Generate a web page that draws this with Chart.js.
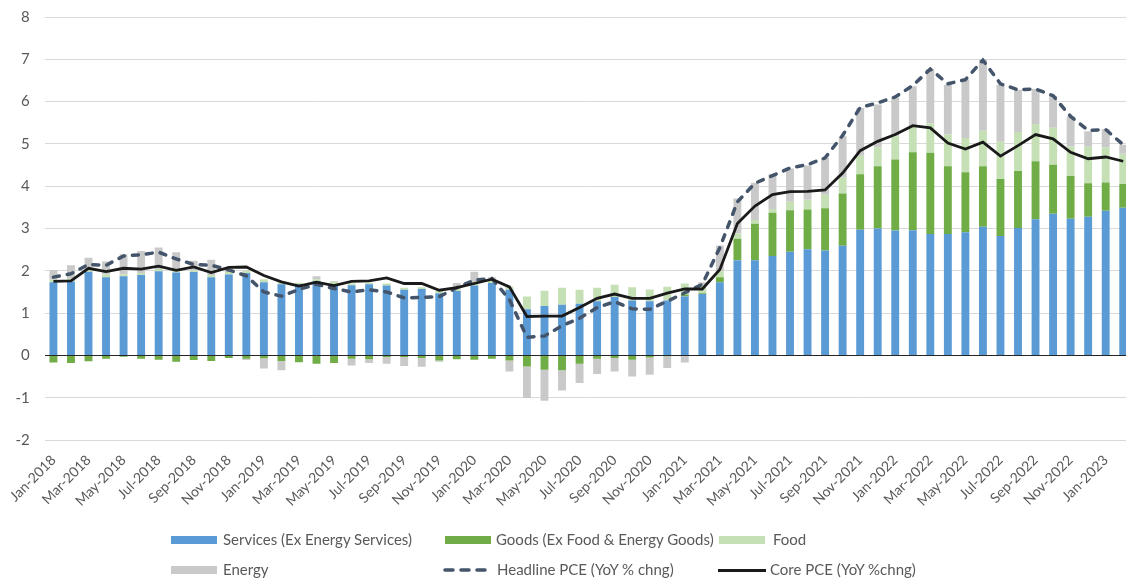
<!DOCTYPE html>
<html>
<head>
<meta charset="utf-8">
<script src="https://cdn.jsdelivr.net/npm/chart.js@4.4.1/dist/chart.umd.min.js"></script>
<style>
  html, body { margin: 0; padding: 0; background: #fff; overflow: hidden; }
  #wrap { position: relative; width: 1126px; height: 579px; overflow: hidden; }
  #grafico { position: absolute; left: 0; top: -7px; }
  .leg { position: absolute; font-family: Lato, "Open Sans", sans-serif; font-size: 15px; color: #595959; line-height: 18px; white-space: nowrap; }
  .caixa { position: absolute; height: 8px; width: 46px; }
</style>
</head>
<body>
<div id="wrap">
  <canvas id="grafico" width="1132" height="586"></canvas>

  <!-- legenda manual, 3 colunas como no original -->
  <div class="caixa" style="left:171px; top:536px; background:#5B9BD5"></div>
  <div class="leg" style="left:223px; top:530px">Services (Ex Energy Services)</div>
  <div class="caixa" style="left:445px; top:536px; background:#70AD47"></div>
  <div class="leg" style="left:496px; top:530px">Goods (Ex Food &amp; Energy Goods)</div>
  <div class="caixa" style="left:719px; top:536px; background:#C5E0B4"></div>
  <div class="leg" style="left:773px; top:530px">Food</div>

  <div class="caixa" style="left:171px; top:566px; background:#C9C9C9"></div>
  <div class="leg" style="left:223px; top:560px">Energy</div>
  <canvas id="legDash" width="48" height="8" style="position:absolute; left:442px; top:566px"></canvas>
  <div class="leg" style="left:497px; top:560px">Headline PCE (YoY % chng)</div>
  <div class="caixa" style="left:718px; top:569px; height:3px; width:48px; background:#1a1a1a"></div>
  <div class="leg" style="left:770px; top:560px">Core PCE (YoY %chng)</div>
</div>

<script>
// meses Jan-2018 .. Feb-2023
const meses = ['Jan', 'Feb', 'Mar', 'Apr', 'May', 'Jun', 'Jul', 'Aug', 'Sep', 'Oct', 'Nov', 'Dec'];
const categorias = [];
for (let ano = 2018; ano <= 2023; ano++) {
    for (let m = 0; m < 12; m++) {
        if (categorias.length < 62) categorias.push(meses[m] + '-' + ano);
    }
}

const yTicks = [-2, -1, 0, 1, 2, 3, 4, 5, 6, 7, 8];

// contribuições (pontos percentuais)
const services = [1.73, 1.75, 1.98, 1.85, 1.87, 1.90, 1.99, 1.96, 1.97, 1.85, 1.91, 1.95,
    1.73, 1.68, 1.68, 1.76, 1.69, 1.66, 1.68, 1.65, 1.55, 1.57, 1.47, 1.52,
    1.65, 1.71, 1.55, 1.09, 1.17, 1.20, 1.22, 1.28, 1.38, 1.30, 1.28, 1.30,
    1.39, 1.45, 1.73, 2.25, 2.25, 2.35, 2.45, 2.51, 2.48, 2.59, 2.97, 3.00,
    2.95, 2.96, 2.87, 2.87, 2.91, 3.04, 2.82, 3.01, 3.22, 3.35, 3.23, 3.28,
    3.42, 3.49];

const goods = [-0.17, -0.18, -0.14, -0.08, -0.03, -0.08, -0.10, -0.15, -0.11, -0.13, -0.06, -0.08,
    -0.07, -0.13, -0.16, -0.20, -0.18, -0.08, -0.09, -0.04, -0.04, -0.06, -0.12, -0.09,
    -0.10, -0.08, -0.12, -0.26, -0.34, -0.35, -0.20, -0.08, -0.06, -0.10, -0.05, -0.02,
    0.05, 0.02, 0.12, 0.51, 0.86, 1.02, 0.98, 0.94, 1.00, 1.24, 1.31, 1.47,
    1.68, 1.84, 1.92, 1.60, 1.42, 1.43, 1.35, 1.35, 1.37, 1.16, 1.01, 0.79,
    0.67, 0.56];

const food = [0.06, 0.06, 0.05, 0.06, 0.05, 0.05, 0.05, 0.04, 0.04, 0.05, 0.06, 0.05,
    0.07, 0.04, 0.04, 0.04, 0.05, 0.04, 0.04, 0.05, 0.05, 0.04, 0.05, 0.05,
    0.05, 0.05, 0.08, 0.30, 0.36, 0.40, 0.33, 0.32, 0.29, 0.31, 0.28, 0.32,
    0.26, 0.18, 0.14, 0.12, 0.09, 0.09, 0.20, 0.23, 0.32, 0.37, 0.44, 0.45,
    0.55, 0.60, 0.69, 0.75, 0.81, 0.84, 0.88, 0.92, 0.88, 0.87, 0.70, 0.86,
    0.83, 0.72];

const energy = [0.23, 0.32, 0.28, 0.31, 0.47, 0.52, 0.51, 0.44, 0.23, 0.36, 0.06, -0.03,
    -0.24, -0.22, 0.00, 0.07, 0.02, -0.16, -0.09, -0.16, -0.21, -0.21, -0.03, 0.14,
    0.28, 0.09, -0.26, -0.75, -0.73, -0.48, -0.45, -0.36, -0.32, -0.40, -0.41, -0.28,
    -0.17, 0.08, 0.61, 0.83, 0.88, 0.82, 0.79, 0.81, 0.87, 0.98, 1.13, 1.01,
    0.91, 0.96, 1.29, 1.18, 1.38, 1.68, 1.35, 1.00, 0.83, 0.76, 0.71, 0.37,
    0.43, 0.21];

// linhas (YoY %)
const headline = [1.85, 1.93, 2.15, 2.13, 2.35, 2.38, 2.44, 2.28, 2.15, 2.13, 2.02, 1.88,
    1.50, 1.40, 1.56, 1.68, 1.58, 1.50, 1.55, 1.50, 1.36, 1.37, 1.39, 1.60,
    1.78, 1.82, 1.32, 0.43, 0.46, 0.70, 0.88, 1.13, 1.27, 1.10, 1.09, 1.28,
    1.48, 1.68, 2.55, 3.63, 4.07, 4.25, 4.43, 4.51, 4.67, 5.20, 5.86, 5.97,
    6.11, 6.38, 6.77, 6.42, 6.52, 6.98, 6.42, 6.28, 6.30, 6.14, 5.65, 5.32,
    5.34, 4.98];

const core = [1.75, 1.76, 2.06, 1.98, 2.06, 2.04, 2.11, 2.01, 2.09, 1.96, 2.08, 2.09,
    1.89, 1.74, 1.64, 1.73, 1.65, 1.75, 1.76, 1.83, 1.70, 1.70, 1.54, 1.60,
    1.70, 1.80, 1.62, 0.92, 0.93, 0.93, 1.13, 1.35, 1.45, 1.35, 1.35, 1.47,
    1.57, 1.57, 2.03, 3.12, 3.53, 3.80, 3.87, 3.88, 3.91, 4.31, 4.84, 5.06,
    5.22, 5.43, 5.38, 5.02, 4.88, 5.04, 4.71, 4.96, 5.22, 5.12, 4.80, 4.65,
    4.69, 4.59];

const corTexto = '#595959';
const fonteTicks = { family: 'Lato, "Open Sans", sans-serif', size: 14 };

function barra(label, data, cor) {
    return {
        type: 'bar',
        label,
        data,
        backgroundColor: cor,
        borderWidth: 0,
        stack: 'pce',
        order: 1,
        categoryPercentage: 1,
        barPercentage: 0.45
    };
}

new Chart(document.getElementById('grafico'), {
    type: 'bar',
    data: {
        labels: categorias,
        datasets: [
            {
                type: 'line', label: 'Core PCE (YoY %chng)', data: core,
                borderColor: '#1a1a1a', borderWidth: 2.8, pointRadius: 0,
                tension: 0, stack: 'core', order: 0
            },
            {
                type: 'line', label: 'Headline PCE (YoY % chng)', data: headline,
                borderColor: '#44546A', borderWidth: 3.5, borderDash: [6, 8],
                borderCapStyle: 'round', pointRadius: 0, tension: 0,
                stack: 'headline', order: 0
            },
            barra('Services (Ex Energy Services)', services, '#5B9BD5'),
            barra('Goods (Ex Food & Energy Goods)', goods, '#70AD47'),
            barra('Food', food, '#C5E0B4'),
            barra('Energy', energy, '#C9C9C9')
        ]
    },
    options: {
        responsive: false,
        animation: false,
        layout: { padding: { top: 10, bottom: 70, left: 0, right: 0 } },
        plugins: {
            legend: { display: false },
            tooltip: { enabled: false }
        },
        scales: {
            x: {
                stacked: true,
                border: { display: false },
                grid: { display: false, drawTicks: false },
                ticks: {
                    autoSkip: false,
                    maxRotation: 45,
                    minRotation: 45,
                    padding: 12,
                    color: corTexto,
                    font: fonteTicks,
                    callback: (v, i) => (i % 2 === 0 ? categorias[i] : '')
                },
                // altura fixa e sem folga à direita (o último mês fica cortado como no original)
                afterFit: (s) => { s.height = 69; s.paddingRight = 0; }
            },
            y: {
                stacked: true,
                min: -2,
                max: 8,
                afterBuildTicks: (s) => { s.ticks = yTicks.map(v => ({ value: v })); },
                border: { display: false },
                grid: {
                    drawTicks: false,
                    color: (c) => (c.tick && c.tick.value === 0 ? '#262626' : '#D9D9D9'),
                    lineWidth: 1
                },
                ticks: {
                    padding: 15,
                    color: corTexto,
                    font: { family: 'Lato, "Open Sans", sans-serif', size: 15 }
                },
                afterFit: (s) => { s.width = 44; }
            }
        }
    }
});

// traço da legenda do headline
const lc = document.getElementById('legDash').getContext('2d');
lc.strokeStyle = '#44546A';
lc.lineWidth = 3.5;
lc.lineCap = 'round';
lc.setLineDash([8, 8]);
lc.beginPath();
lc.moveTo(3, 4);
lc.lineTo(46, 4);
lc.stroke();
</script>
</body>
</html>
